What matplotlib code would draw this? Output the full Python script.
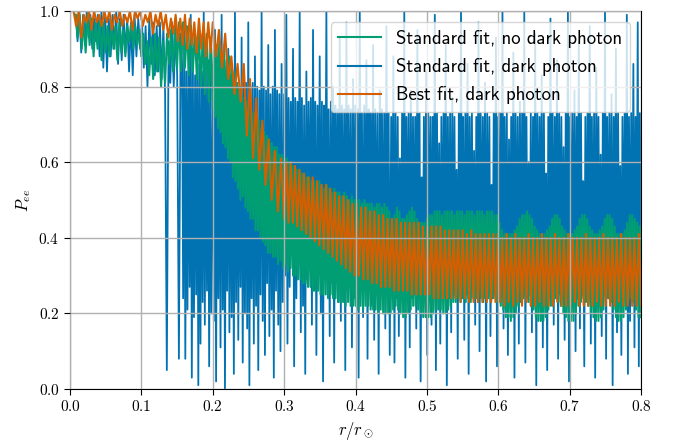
import numpy as np
import matplotlib
matplotlib.use("Agg")
import matplotlib.pyplot as plt
from matplotlib.ticker import FuncFormatter

# ---------------- data (values in hundredths of P_ee) ----------------
# each segment: (r_start, r_end, successive extrema of the curve)
green_segments = [
    (0.008, 0.200,
     "99 93 99 90 98 89 99 91 98 88 97 90 98 87 97 89 96 88 97 90 96 87 97 89 95 88 "
     "96 92 97 90 96 91 95 88 94 86 92 83 93 82 94 84 93 80 92 81 94 86 95 84 96 85 "
     "97 84 97 85 96 83 96 84 95 82 95 80 94 78 94 76 93 74"),
    (0.202, 0.800,
     "93 72 91 69 92 68 89 65 90 64 87 61 88 60 85 56 84 55 81 53 80 50 79 51 77 48 "
     "76 47 75 45 73 45 73 42 71 42 71 40 69 39 68 38 67 36 66 36 65 35 64 35 64 33 "
     "62 34 62 32 61 33 61 31 60 32 59 30 59 30 58 29 58 29 57 28 57 28 56 27 56 27 "
     "55 26 55 26 54 26 55 25 54 25 53 25 54 24 53 25 52 24 53 24 52 23 52 23 51 23 "
     "52 22 51 23 50 22 51 22 50 22 50 21 50 22 49 21 50 22 49 22 49 21 49 21 48 21 "
     "49 20 49 21 48 20 49 20 48 20 47 20 45 21 46 22 48 21 47 20 45 19 45 19 46 20 "
     "47 21 48 22 47 22 45 21 44 20 44 19 44 19 45 19 46 19 46 20 47 21 47 21 47 21 "
     "46 20 47 20 47 21 47 22 47 23 46 23 47 24 47 23 47 24 46 23 47 24 47 23 47 24 "
     "46 24 47 23 47 24 47 23 46 24 47 24 47 23 47 24 46 23 46 23 44 22 42 21 41 19 "
     "41 19 41 18 41 19 42 20 43 22 45 23 46 24 46 24 47 23 46 22 45 21 43 19 42 18 "
     "41 18 41 18 41 19 42 21 43 22 45 23 46 24 46 23 45 22 43 20 42 19 41 18 41 18 "
     "41 18 42 20 43 22 45 23 46 24 46 23 45 22 43 20 42 19 41 18 41 18 42 19 43 21 "
     "45 23 46 24 46 23 45 21 43 19 41 18 41 18 41 19 42 21 44 23 46 24 46 23 45 21 "
     "44 19 43 19"),
]

blue_segments = [
    (0.008, 0.124,
     "99 92 100 89 99 91 100 93 99 90 98 92 99 88 100 85 99 84 98 88 99 90 100 86 "
     "98 87 99 89 98 84 97 83 99 88 98 90 97 85 96 80 98 86 97 83 96 84"),
    (0.126, 0.155, "97 82 96 78 5 92 81 97 80 95 83 8 94"),
    (0.157, 0.198,
     "86 24 97 8 84 21 88 27 99 3 85 19 83 25 92 1 86 12 84 23 100 17 85 26 87 6 84 20"),
    (0.200, 0.298,
     "83 18 95 2 84 24 82 11 99 21 83 0 81 26 90 15 83 19 82 4 100 23 81 13 80 27 "
     "93 7 82 20 81 16 97 1 80 24 81 12 88 22 80 5 79 25 100 18 80 9 79 28 91 14 "
     "78 21 80 3 95 26 79 17 78 10 86 23"),
    (0.300, 0.448,
     "78 30 99 12 77 27 76 36 90 6 77 24 76 33 100 15 77 22 75 4 84 29 76 38 77 17 "
     "95 26 76 9 75 31 88 20 76 2 75 35 100 25 74 14 76 28 80 7 75 37 74 23 93 18 "
     "75 30 74 5 97 26 75 34 74 11 82 24 75 29 74 3 100 32 73 19 75 26 87 8 74 36 "
     "73 22 91 13 74 28 73 4 79 33 74 25 73 16 96 30 73 9"),
    (0.450, 0.800,
     "72 25 88 7 73 24 72 14 61 25 73 24 100 3 72 26 73 11 79 24 "
     "72 25 72 16 95 24 73 2 56 25 72 24 84 9 73 25 72 17 72 24 "
     "99 5 73 25 65 12 72 24 73 26 91 1 72 24 73 15 77 25 72 24 "
     "58 8 73 25 100 24 72 13 73 25 86 4 72 24 73 26 63 17 72 24 "
     "97 10 73 25 72 24 81 2 73 25 72 14 54 24 73 25 93 6 72 24 "
     "73 25 100 16 72 24 73 9 66 25 72 24 89 3 73 25 72 12 76 24 "
     "73 25 100 7 72 24 60 25 73 15 72 24 94 1 73 25 72 24 83 11 "
     "73 25 57 5 72 24 98 25 73 17 72 24 87 8 73 25 72 24 64 13 "
     "73 25 100 2 72 24 73 25 79 10 72 24 92 16 73 25 55 6 72 24 "
     "73 25 96 12 72 24 73 3 85 25 72 24 62 14 73 25 100 8 72 24 "
     "73 25 78 1 72 24 90 15 73 25 59 9 72 24 73 25 99 4 72 18 "
     "73 25 86 11 72 24 97 6 73 22"),
]

orange_segments = [
    (0.005, 0.145,
     "100 96 100 93 99 97 100 95 100 97 99 96 100 97 100 95 99 97 100 96 99 97 100 95 "
     "100 98 100 96 99 97 100 94 99 96 100 95 99 93 98 94"),
    (0.148, 0.197, "99 92 98 91 99 90 98 91 97 89 98 90 97 88 97 89"),
    (0.200, 0.300,
     "97 88 95 85 94 82 88 78 86 76 86 67 82 61 77 58 71 54 66 50 63 47 61 45"),
    (0.303, 0.800,
     "60 44 60 44 59 43 58 42 57 41 56 40 56 39 55 38 54 37 54 36 53 35 52 34 51 33 "
     "51 32 50 31 49 30 49 30 48 29 48 29 47 28 47 28 46 27 46 27 45 27 45 26 45 26 "
     "44 26 44 26 44 25 44 25 44 25 43 25 43 25 43 24 43 24 43 24 42 24 42 24 42 24 "
     "42 23 42 24 41 23 42 23 41 23 41 23 41 23 41 23 41 23 41 23 40 22 41 23 40 22 "
     "41 23 40 22 40 23 41 22 40 22 40 23 41 22 40 22 40 22 41 23 40 22 40 22 41 22 "
     "40 23 40 22 40 22 41 22 40 22 40 23 40 22 41 22 40 22 40 22 40 23 41 22 40 22 "
     "40 22 40 22 41 22"),
]

labels = ["Standard fit, no dark photon", "Standard fit, dark photon", "Best fit, dark photon"]
colors = {"green": "#029e73", "blue": "#0173b2", "orange": "#d55e00"}
x_ticks = [0.0, 0.1, 0.2, 0.3, 0.4, 0.5, 0.6, 0.7, 0.8]
y_ticks = [0.0, 0.2, 0.4, 0.6, 0.8, 1.0]


def build(segments):
    xs, ys = [], []
    for r0, r1, s in segments:
        v = np.array(s.split(), dtype=float) / 100.0
        xs.append(np.linspace(r0, r1, len(v)))
        ys.append(v)
    return np.concatenate(xs), np.concatenate(ys)


plt.rcParams["mathtext.fontset"] = "cm"

fig = plt.figure(figsize=(6.77, 4.45), dpi=100)
ax = fig.add_axes([70 / 677, 1 - 389 / 445, 571 / 677, 378 / 445])

xb, yb = build(blue_segments)
xg, yg = build(green_segments)
xo, yo = build(orange_segments)

ax.plot(xb, yb, color=colors["blue"], lw=1.3)
ax.plot(xg, yg, color=colors["green"], lw=1.5)
ax.plot(xo, yo, color=colors["orange"], lw=1.5)

ax.set_xlim(0, 0.8)
ax.set_ylim(0, 1.0)
ax.set_xticks(x_ticks)
ax.set_yticks(y_ticks)
fmt = FuncFormatter(lambda v, p: f"${v:.1f}$")
ax.xaxis.set_major_formatter(fmt)
ax.yaxis.set_major_formatter(fmt)
ax.tick_params(direction="out", length=4, labelsize=11)
ax.grid(True, color="#b0b0b0", lw=1.0)
ax.set_axisbelow(False)

ax.set_xlabel(r"$r/r_\odot$", fontsize=12)
ax.set_ylabel(r"$P_{ee}$", fontsize=12)

handles = [plt.Line2D([], [], color=colors[c], lw=1.5) for c in ("green", "blue", "orange")]
ax.legend(handles=handles, labels=labels, loc="upper right",
          prop={"family": "cmss10", "size": 13.5}, labelspacing=0.55,
          handlelength=2.3, borderaxespad=0.6)

fig.savefig("out.png", dpi=100)
